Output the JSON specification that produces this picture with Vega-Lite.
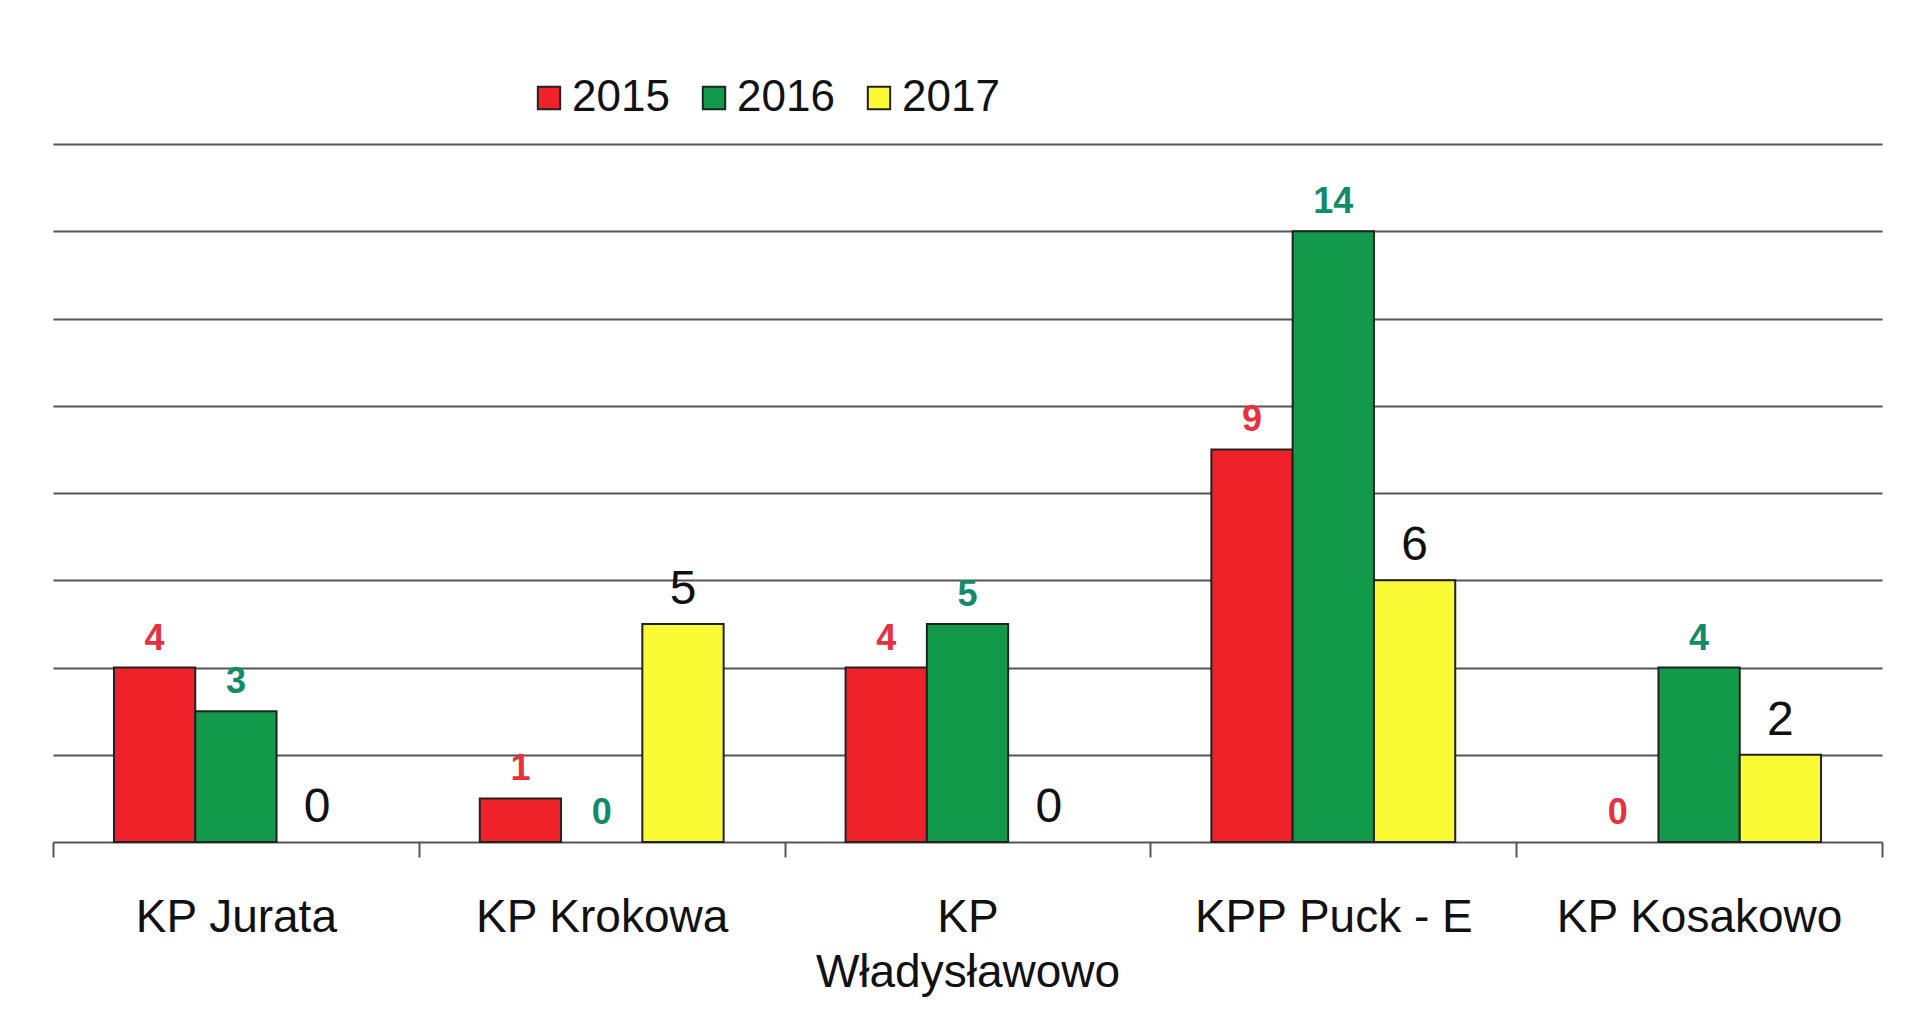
{
  "$schema": "https://vega.github.io/schema/vega-lite/v6.json",
  "autosize": {"type": "none"},
  "width": 1829,
  "height": 698,
  "padding": {"left": 53, "top": 144, "right": 38, "bottom": 182},
  "background": "white",
  "config": {
    "font": "Liberation Sans",
    "view": {"stroke": null}
  },
  "data": {
    "values": [
      {"unit": "KP Jurata", "year": "2015", "value": 4},
      {"unit": "KP Jurata", "year": "2016", "value": 3},
      {"unit": "KP Jurata", "year": "2017", "value": 0},
      {"unit": "KP Krokowa", "year": "2015", "value": 1},
      {"unit": "KP Krokowa", "year": "2016", "value": 0},
      {"unit": "KP Krokowa", "year": "2017", "value": 5},
      {"unit": "KP Władysławowo", "year": "2015", "value": 4},
      {"unit": "KP Władysławowo", "year": "2016", "value": 5},
      {"unit": "KP Władysławowo", "year": "2017", "value": 0},
      {"unit": "KPP Puck - E", "year": "2015", "value": 9},
      {"unit": "KPP Puck - E", "year": "2016", "value": 14},
      {"unit": "KPP Puck - E", "year": "2017", "value": 6},
      {"unit": "KP Kosakowo", "year": "2015", "value": 0},
      {"unit": "KP Kosakowo", "year": "2016", "value": 4},
      {"unit": "KP Kosakowo", "year": "2017", "value": 2}
    ]
  },
  "encoding": {
    "x": {
      "field": "unit",
      "type": "nominal",
      "sort": null,
      "scale": {"paddingInner": 0, "paddingOuter": 0},
      "axis": {
        "title": null,
        "labelAngle": 0,
        "labelFontSize": 46,
        "labelLimit": 0,
        "labelColor": "#111",
        "labelPadding": 38,
        "labelLineHeight": 55,
        "labelExpr": "datum.value == 'KP Władysławowo' ? ['KP', 'Władysławowo'] : datum.value",
        "tickBand": "extent",
        "tickSize": 15,
        "tickColor": "#555",
        "tickWidth": 2,
        "domainColor": "#555",
        "domainWidth": 2,
        "grid": false
      }
    },
    "xOffset": {
      "field": "year",
      "type": "nominal",
      "scale": {"paddingInner": 0, "paddingOuter": 0.75}
    },
    "y": {
      "field": "value",
      "type": "quantitative",
      "scale": {"domain": [0, 16], "nice": false},
      "axis": {
        "title": null,
        "labels": false,
        "ticks": false,
        "domain": false,
        "values": [2, 4, 6, 8, 10, 12, 14, 16],
        "grid": true,
        "gridColor": "#555",
        "gridWidth": 2
      }
    }
  },
  "layer": [
    {
      "mark": {"type": "bar", "stroke": "#222", "strokeWidth": 2},
      "encoding": {
        "strokeOpacity": {"condition": {"test": "datum.value == 0", "value": 0}, "value": 1},
        "color": {
          "field": "year",
          "type": "nominal",
          "scale": {"domain": ["2015", "2016", "2017"], "range": ["#ee2228", "#13994a", "#fafa35"]},
          "legend": {
            "title": null,
            "orient": "none",
            "direction": "horizontal",
            "legendX": 474,
            "legendY": -68,
            "symbolType": "square",
            "symbolSize": 500,
            "symbolStrokeColor": "#222",
            "symbolStrokeWidth": 2,
            "labelFontSize": 44,
            "labelColor": "#111",
            "labelOffset": 1,
            "columnPadding": 22
          }
        }
      }
    },
    {
      "transform": [{"filter": "datum.year != '2017'"}],
      "mark": {"type": "text", "fontWeight": "bold", "fontSize": 36, "baseline": "alphabetic", "dy": -18},
      "encoding": {
        "text": {"field": "value", "type": "quantitative"},
        "color": {
          "field": "year",
          "type": "nominal",
          "scale": {"domain": ["2015", "2016"], "range": ["#e8303f", "#138a68"]},
          "legend": null
        }
      }
    },
    {
      "transform": [{"filter": "datum.year == '2017'"}],
      "mark": {"type": "text", "fontSize": 48, "color": "#111", "baseline": "alphabetic", "dy": -20},
      "encoding": {
        "text": {"field": "value", "type": "quantitative"}
      }
    }
  ],
  "resolve": {"scale": {"color": "independent"}}
}
